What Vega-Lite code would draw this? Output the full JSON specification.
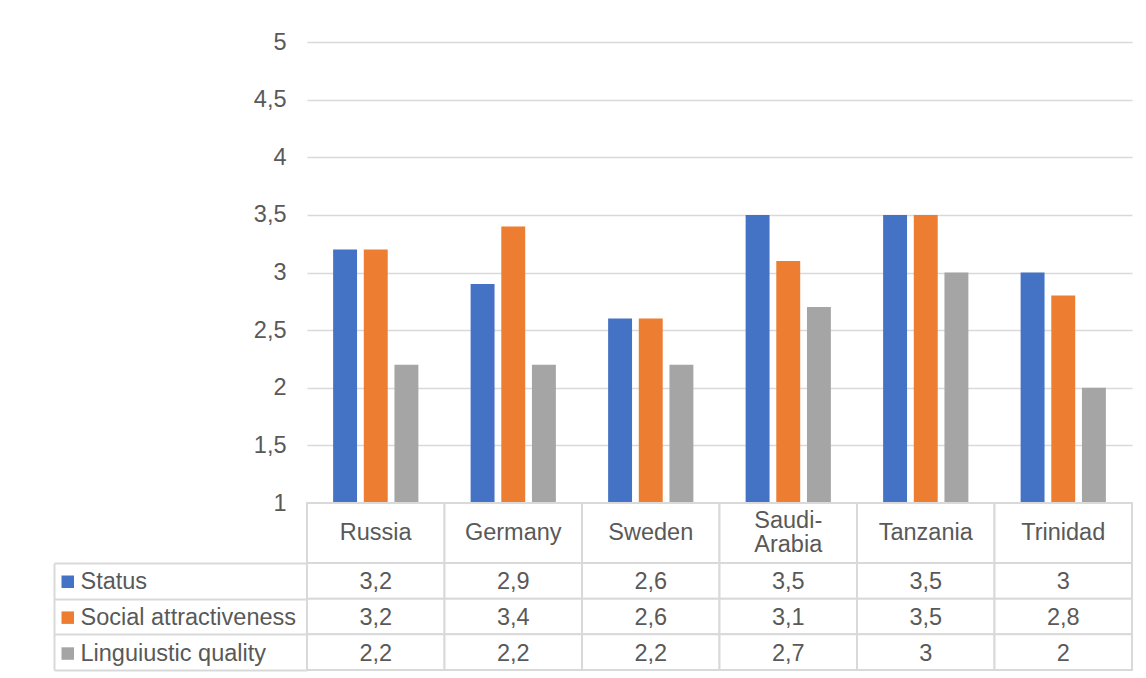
{
  "$schema": "https://vega.github.io/schema/vega-lite/v6.json",
  "padding": {"left": 53, "top": 30, "right": 5, "bottom": 5},
  "background": "white",
  "datasets": {
    "d": [
      {"country": "Russia", "series": "Status", "value": 3.2},
      {"country": "Germany", "series": "Status", "value": 2.9},
      {"country": "Sweden", "series": "Status", "value": 2.6},
      {"country": "Saudi-\nArabia", "series": "Status", "value": 3.5},
      {"country": "Tanzania", "series": "Status", "value": 3.5},
      {"country": "Trinidad", "series": "Status", "value": 3},
      {"country": "Russia", "series": "Social attractiveness", "value": 3.2},
      {"country": "Germany", "series": "Social attractiveness", "value": 3.4},
      {"country": "Sweden", "series": "Social attractiveness", "value": 2.6},
      {"country": "Saudi-\nArabia", "series": "Social attractiveness", "value": 3.1},
      {"country": "Tanzania", "series": "Social attractiveness", "value": 3.5},
      {"country": "Trinidad", "series": "Social attractiveness", "value": 2.8},
      {"country": "Russia", "series": "Linguiustic quality", "value": 2.2},
      {"country": "Germany", "series": "Linguiustic quality", "value": 2.2},
      {"country": "Sweden", "series": "Linguiustic quality", "value": 2.2},
      {"country": "Saudi-\nArabia", "series": "Linguiustic quality", "value": 2.7},
      {"country": "Tanzania", "series": "Linguiustic quality", "value": 3},
      {"country": "Trinidad", "series": "Linguiustic quality", "value": 2}
    ]
  },
  "vconcat": [
    {
      "width": 825,
      "height": 461,
      "data": {"name": "d"},
      "mark": {"type": "bar"},
      "encoding": {
        "x": {
          "field": "country", "type": "nominal",
          "sort": ["Russia", "Germany", "Sweden", "Saudi-\nArabia", "Tanzania", "Trinidad"],
          "scale": {"paddingInner": 0.38, "paddingOuter": 0.19},
          "axis": null
        },
        "xOffset": {
          "field": "series", "type": "nominal",
          "sort": ["Status", "Social attractiveness", "Linguiustic quality"],
          "scale": {"paddingInner": 0.22, "paddingOuter": 0}
        },
        "y": {
          "field": "value", "type": "quantitative",
          "scale": {"domain": [1, 5], "zero": false, "nice": false},
          "axis": {
            "values": [1, 1.5, 2, 2.5, 3, 3.5, 4, 4.5, 5],
            "format": ".1~f",
            "title": null,
            "domain": false,
            "ticks": false,
            "grid": true,
            "gridColor": "#d9d9d9",
            "gridWidth": 1.5,
            "labelFontSize": 23.5,
            "labelColor": "#595959",
            "labelPadding": 21
          }
        },
        "color": {
          "field": "series", "type": "nominal",
          "sort": ["Status", "Social attractiveness", "Linguiustic quality"],
          "scale": {
            "domain": ["Status", "Social attractiveness", "Linguiustic quality"],
            "range": ["#4472C4", "#ED7D31", "#A5A5A5"]
          },
          "legend": {
            "orient": "none",
            "legendX": -251,
            "legendY": 528,
            "title": null,
            "direction": "vertical",
            "symbolType": "square",
            "symbolSize": 156,
            "symbolStrokeWidth": 0,
            "labelFontSize": 23.5,
            "labelColor": "#595959",
            "labelOffset": 1,
            "labelLimit": 400,
            "rowPadding": 10.9,
            "padding": 0
          }
        }
      }
    },
    {
      "width": 825,
      "height": 60,
      "data": {"name": "d"},
      "transform": [{"filter": "datum.series === 'Status'"}],
      "layer": [
        {
          "mark": {"type": "rect", "fill": "white", "stroke": "#d9d9d9", "strokeWidth": 2},
          "encoding": {
            "x": {
              "field": "country", "type": "nominal",
              "sort": ["Russia", "Germany", "Sweden", "Saudi-\nArabia", "Tanzania", "Trinidad"],
              "scale": {"paddingInner": 0, "paddingOuter": 0},
              "axis": null
            }
          }
        },
        {
          "transform": [{"filter": "indexof(datum.country, '\\n') < 0"}],
          "mark": {"type": "text", "fontSize": 23.5, "color": "#595959"},
          "encoding": {
            "x": {
              "field": "country", "type": "nominal",
              "sort": ["Russia", "Germany", "Sweden", "Saudi-\nArabia", "Tanzania", "Trinidad"],
              "axis": null
            },
            "text": {"field": "country"}
          }
        },
        {
          "transform": [{"filter": "indexof(datum.country, '\\n') >= 0"}],
          "mark": {"type": "text", "fontSize": 23.5, "color": "#595959", "lineBreak": "\n", "lineHeight": 24, "dy": -12},
          "encoding": {
            "x": {
              "field": "country", "type": "nominal",
              "sort": ["Russia", "Germany", "Sweden", "Saudi-\nArabia", "Tanzania", "Trinidad"],
              "axis": null
            },
            "text": {"field": "country"}
          }
        }
      ]
    },
    {
      "width": 825,
      "height": 107,
      "data": {"name": "d"},
      "layer": [
        {
          "mark": {"type": "rect", "fill": "white", "stroke": "#d9d9d9", "strokeWidth": 2},
          "encoding": {
            "x": {
              "field": "country", "type": "nominal",
              "sort": ["Russia", "Germany", "Sweden", "Saudi-\nArabia", "Tanzania", "Trinidad"],
              "scale": {"paddingInner": 0, "paddingOuter": 0},
              "axis": null
            },
            "y": {
              "field": "series", "type": "nominal",
              "sort": ["Status", "Social attractiveness", "Linguiustic quality"],
              "scale": {"paddingInner": 0, "paddingOuter": 0},
              "axis": {
                "orient": "left",
                "offset": 253,
                "title": null,
                "labels": false,
                "grid": false,
                "domain": true,
                "domainColor": "#d9d9d9",
                "domainWidth": 2,
                "ticks": true,
                "tickBand": "extent",
                "tickSize": -253,
                "tickColor": "#d9d9d9",
                "tickWidth": 2
              }
            }
          }
        },
        {
          "mark": {"type": "text", "fontSize": 23.5, "color": "#595959", "dy": 1.5},
          "encoding": {
            "x": {
              "field": "country", "type": "nominal",
              "sort": ["Russia", "Germany", "Sweden", "Saudi-\nArabia", "Tanzania", "Trinidad"]
            },
            "y": {
              "field": "series", "type": "nominal",
              "sort": ["Status", "Social attractiveness", "Linguiustic quality"]
            },
            "text": {"field": "value", "type": "quantitative", "format": ".1~f"}
          }
        }
      ]
    }
  ],
  "spacing": 0,
  "bounds": "flush",
  "resolve": {"legend": {"color": "independent"}, "scale": {"color": "independent"}},
  "config": {
    "font": "Liberation Sans",
    "view": {"stroke": null},
    "locale": {
      "number": {"decimal": ",", "thousands": " ", "grouping": [3], "currency": ["", " €"]}
    }
  }
}
